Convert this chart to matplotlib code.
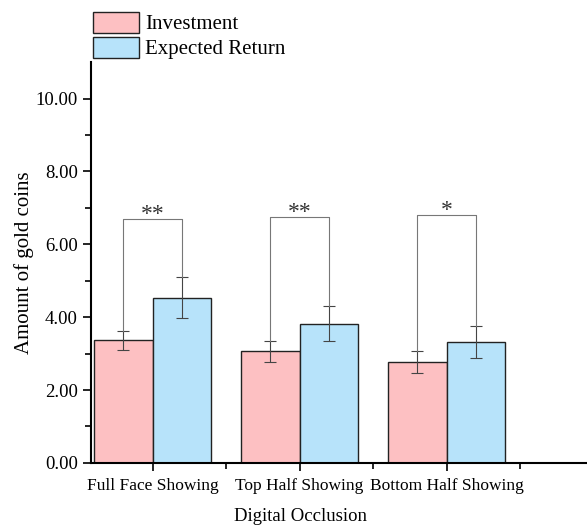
import numpy as np
import matplotlib.pyplot as plt
from matplotlib.patches import Patch

categories = ["Full Face Showing", "Top Half Showing", "Bottom Half Showing"]
investment = [3.37, 3.06, 2.77]
investment_err = [0.26, 0.29, 0.29]
expected = [4.53, 3.82, 3.32]
expected_err = [0.56, 0.48, 0.45]
sig_labels = ["**", "**", "*"]
bracket_y = [6.70, 6.75, 6.79]

pink = "#FDC0C2"
blue = "#B7E3FA"

plt.rcParams["font.family"] = ["Liberation Serif", "DejaVu Serif"]

fig = plt.figure(figsize=(5.87, 5.26), dpi=100)
ax = fig.add_axes([0.155, 0.12, 0.845, 0.762])

x = np.arange(len(categories))
w = 0.4
ax.bar(x, investment, width=-w, align="edge", color=pink, edgecolor="#222222", linewidth=1.0)
ax.bar(x, expected, width=w, align="edge", color=blue, edgecolor="#222222", linewidth=1.0)
ax.errorbar(x - w / 2, investment, yerr=investment_err, fmt="none", ecolor="#444444",
            elinewidth=0.8, capsize=4, capthick=0.8)
ax.errorbar(x + w / 2, expected, yerr=expected_err, fmt="none", ecolor="#444444",
            elinewidth=0.8, capsize=4, capthick=0.8)

# significance brackets
for i in range(len(categories)):
    xl, xr = x[i] - w / 2, x[i] + w / 2
    yl = investment[i] + investment_err[i]
    yr = expected[i] + expected_err[i]
    yb = bracket_y[i]
    ax.plot([xl, xl, xr, xr], [yl, yb, yb, yr], color="#777777", linewidth=0.8)
    ax.text(x[i], yb - 0.16, sig_labels[i], ha="center", va="bottom", fontsize=17, color="#333333")

ax.set_xlim(-0.42, 2.955)
ax.set_ylim(0, 11)
ax.set_xticks(x)
ax.set_xticklabels(categories, fontsize=12.5)
ax.set_xticks(list(x[:-1] + 0.5) + [2.5], minor=True)
ax.set_yticks(np.arange(0, 11, 2))
ax.set_yticklabels([f"{v:.2f}" for v in np.arange(0, 11, 2)], fontsize=13.5)
ax.set_yticks(np.arange(1, 11, 2), minor=True)
ax.tick_params(axis="both", which="major", direction="out", length=6, width=1.2)
ax.tick_params(axis="both", which="minor", direction="out", length=4, width=1.2)
ax.tick_params(axis="x", which="major", pad=5)
ax.spines["top"].set_visible(False)
ax.spines["right"].set_visible(False)
ax.spines["left"].set_linewidth(1.5)
ax.spines["bottom"].set_linewidth(1.5)

ax.set_xlabel("Digital Occlusion", fontsize=13.5)
ax.xaxis.set_label_coords(0.422, -0.112)
ax.set_ylabel("Amount of gold coins", fontsize=15, labelpad=1)

handles = [Patch(facecolor=pink, edgecolor="#222222", label="Investment"),
           Patch(facecolor=blue, edgecolor="#222222", label="Expected Return")]
fig.legend(handles=handles, loc="upper left", bbox_to_anchor=(0.158, 0.978), frameon=False,
           fontsize=15, handlelength=2.2, handleheight=1.2, handletextpad=0.3, labelspacing=0.12,
           borderpad=0.0, borderaxespad=0.0)

fig.savefig("out.png", dpi=100)
